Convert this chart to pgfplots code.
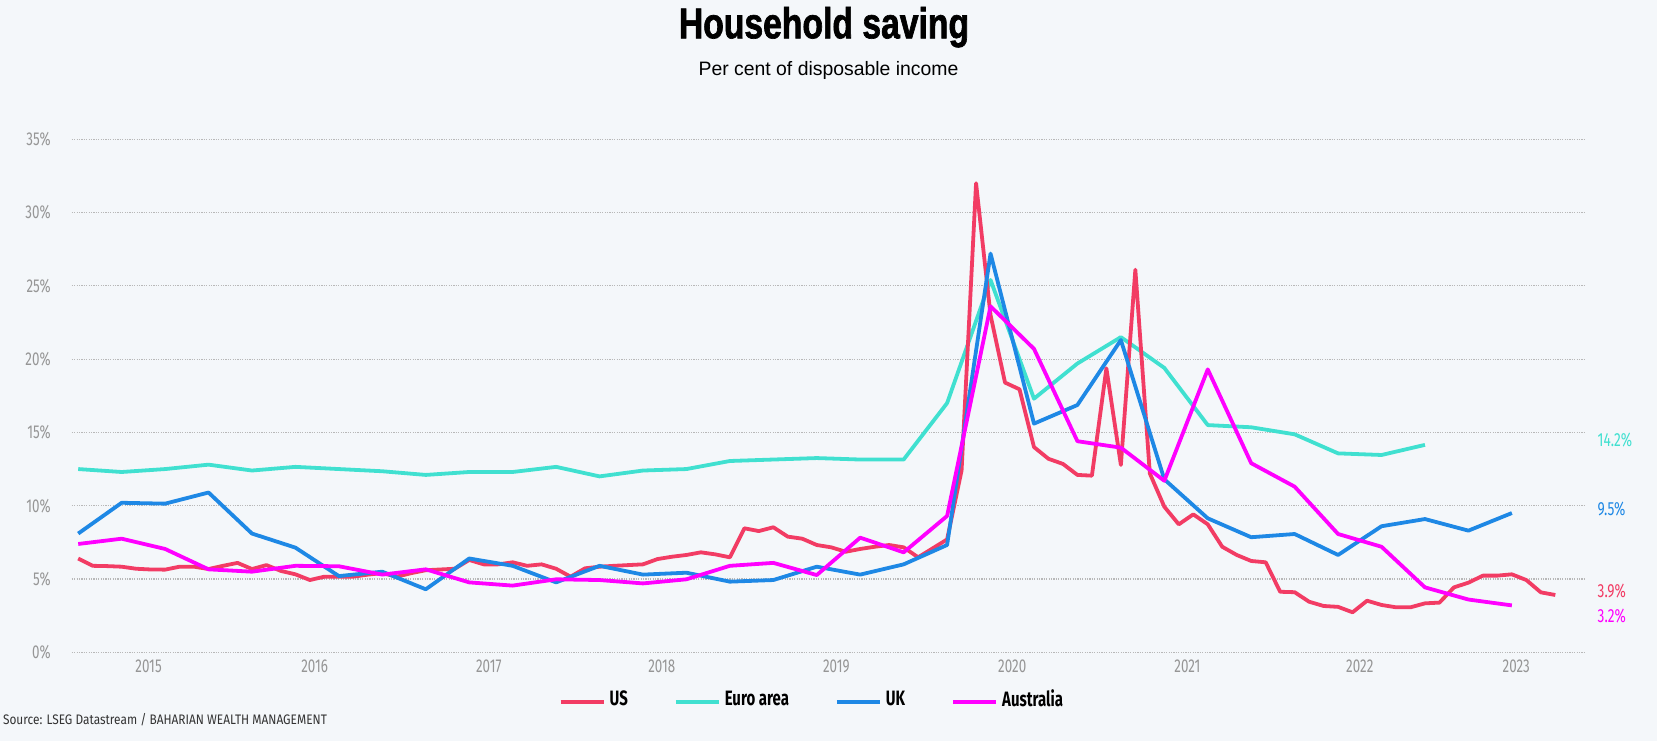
\documentclass[border=0pt]{standalone}
\usepackage{fontspec}
\setmainfont{Liberation Sans}
\newfontfamily\titlefont[FakeStretch=0.78,FakeBold=1.5]{Liberation Sans}
\newfontfamily\cond[FakeStretch=0.72]{Fira Sans}
\newfontfamily\srcfont[FakeStretch=0.86]{Fira Sans}
\usepackage{pgfplots}
\pgfplotsset{compat=1.18}
\definecolor{bg}{HTML}{F4F7FA}
\definecolor{uscol}{HTML}{F23C64}
\definecolor{eucol}{HTML}{40E0D0}
\definecolor{ukcol}{HTML}{1E88E5}
\definecolor{aucol}{HTML}{FF00FF}
\definecolor{tickgray}{HTML}{969696}
\definecolor{gridgray}{HTML}{B8B8B8}
\definecolor{srcgray}{HTML}{333333}
\begin{document}
\begin{tikzpicture}[x=1pt,y=1pt]
\fill[bg] (0,0) rectangle (828.5,370.5);
\begin{axis}[
  at={(35.85pt,44.35pt)}, anchor=south west,
  scale only axis, width=757pt, height=256.55pt,
  xmin=0.55, xmax=105.1, ymin=0, ymax=35,
  axis line style={draw=none},
  major tick length=0pt,
  xtick={5.86,17.33,29.35,41.3,53.35,65.5,77.6,89.5,100.3},
  xticklabels={2015,2016,2017,2018,2019,2020,2021,2022,2023},
  ytick={0,5,10,15,20,25,30,35},
  yticklabels={0\%,5\%,10\%,15\%,20\%,25\%,30\%,35\%},
  ymajorgrids,
  grid style={color=gridgray, line width=0.6pt, dash pattern=on 0.6pt off 0.6pt},
  tick label style={font=\cond\fontsize{9.3}{10}\selectfont, text=tickgray},
  yticklabel style={xshift=-7pt},
  clip=false,
  no markers,
  every axis plot/.append style={line width=1.9pt, line join=round},
  legend style={at={(0.4895,-0.0916)}, anchor=center, draw=none, fill=none,
    font=\cond\bfseries\fontsize{10.4}{12}\selectfont,
    /tikz/every even column/.append style={column sep=21pt}},
  legend columns=4,
  legend cell align=left,
  legend image code/.code={\draw[#1, line width=2pt] (0pt,-1.5pt) -- (21.5pt,-1.5pt);},
]
\addlegendimage{uscol}\addlegendentry{US}
\addlegendimage{eucol}\addlegendentry{Euro area}
\addlegendimage{ukcol}\addlegendentry{UK}
\addlegendimage{aucol}\addlegendentry{Australia}
% Euro area (quarterly)
\addplot[eucol, forget plot] coordinates {
(1,12.5)(4,12.3)(7,12.5)(10,12.8)(13,12.4)(16,12.65)(19,12.5)(22,12.35)
(25,12.1)(28,12.3)(31,12.3)(34,12.65)(37,12.0)(40,12.4)(43,12.5)(46,13.05)
(49,13.15)(52,13.25)(55,13.15)(58,13.15)(61,17.0)(64,25.4)(67,17.3)(70,19.7)
(73,21.5)(76,19.4)(79,15.5)(82,15.35)(85,14.87)(88,13.57)(91,13.46)(94,14.15)};
% US (monthly)
\addplot[uscol, forget plot] coordinates {
(1,6.4)(2,5.9)(3,5.88)(4,5.84)(5,5.7)(6,5.65)(7,5.64)(8,5.84)(9,5.84)(10,5.68)
(11,5.9)(12,6.1)(13,5.68)(14,5.95)(15,5.55)(16,5.32)(17,4.93)(18,5.16)(19,5.16)(20,5.16)
(21,5.3)(22,5.4)(23,5.16)(24,5.4)(25,5.6)(26,5.65)(27,5.7)(28,6.3)(29,6.0)(30,6.0)
(31,6.14)(32,5.9)(33,6.0)(34,5.7)(35,5.16)(36,5.73)(37,5.84)(38,5.9)(39,5.95)(40,6.0)
(41,6.36)(42,6.52)(43,6.64)(44,6.82)(45,6.68)(46,6.48)(47,8.46)(48,8.27)(49,8.53)(50,7.89)
(51,7.75)(52,7.32)(53,7.16)(54,6.86)(55,7.05)(56,7.2)(57,7.32)(58,7.16)(59,6.48)(60,7.09)
(61,7.7)(62,12.4)(63,32.0)(64,23.0)(65,18.4)(66,17.94)(67,14.0)(68,13.2)(69,12.85)(70,12.1)
(71,12.05)(72,19.37)(73,12.78)(74,26.1)(75,12.2)(76,9.93)(77,8.73)(78,9.41)(79,8.73)(80,7.2)
(81,6.64)(82,6.23)(83,6.14)(84,4.13)(85,4.1)(86,3.45)(87,3.16)(88,3.1)(89,2.73)(90,3.52)
(91,3.23)(92,3.07)(93,3.07)(94,3.34)(95,3.39)(96,4.43)(97,4.75)(98,5.23)(99,5.23)(100,5.32)
(101,4.93)(102,4.09)(103,3.91)};
% UK (quarterly)
\addplot[ukcol, forget plot] coordinates {
(1,8.1)(4,10.2)(7,10.14)(10,10.9)(13,8.1)(16,7.14)(19,5.2)(22,5.5)
(25,4.3)(28,6.4)(31,5.9)(34,4.77)(37,5.9)(40,5.3)(43,5.43)(46,4.82)
(49,4.93)(52,5.84)(55,5.3)(58,6.0)(61,7.32)(64,27.2)(67,15.6)(70,16.87)
(73,21.3)(76,11.8)(79,9.14)(82,7.85)(85,8.07)(88,6.64)(91,8.6)(94,9.09)
(97,8.3)(100,9.5)};
% Australia (quarterly)
\addplot[aucol, forget plot] coordinates {
(1,7.39)(4,7.75)(7,7.05)(10,5.66)(13,5.5)(16,5.9)(19,5.87)(22,5.3)
(25,5.66)(28,4.77)(31,4.55)(34,4.98)(37,4.93)(40,4.7)(43,4.98)(46,5.9)
(49,6.1)(52,5.27)(55,7.82)(58,6.82)(61,9.3)(64,23.6)(67,20.7)(70,14.4)
(73,13.96)(76,11.7)(79,19.3)(82,12.9)(85,11.3)(88,8.07)(91,7.2)(94,4.43)
(97,3.6)(100,3.2)};
\node[anchor=west, text=eucol, font=\cond\fontsize{9.5}{10}\selectfont, inner sep=0pt] at (axis cs:105.9,14.5) {14.2\%};
\node[anchor=west, text=ukcol, font=\cond\fontsize{9.5}{10}\selectfont, inner sep=0pt] at (axis cs:105.9,9.8) {9.5\%};
\node[anchor=west, text=uscol, font=\cond\fontsize{9.5}{10}\selectfont, inner sep=0pt] at (axis cs:105.9,4.2) {3.9\%};
\node[anchor=west, text=aucol, font=\cond\fontsize{9.5}{10}\selectfont, inner sep=0pt] at (axis cs:105.9,2.5) {3.2\%};
\end{axis}
\node[anchor=base, font=\titlefont\bfseries\fontsize{21.6}{24}\selectfont] at (412,351.35) {Household saving};
\node[anchor=base, font=\fontsize{9.7}{11}\selectfont] at (414.25,332.75) {Per cent of disposable income};
\node[anchor=base west, inner sep=0pt, font=\srcfont\fontsize{6.9}{8}\selectfont, text=srcgray] at (1.35,8.5) {Source: LSEG Datastream / BAHARIAN WEALTH MANAGEMENT};
\pgfresetboundingbox
\path (0,0) rectangle (828.5,370.5);
\end{tikzpicture}
\end{document}
